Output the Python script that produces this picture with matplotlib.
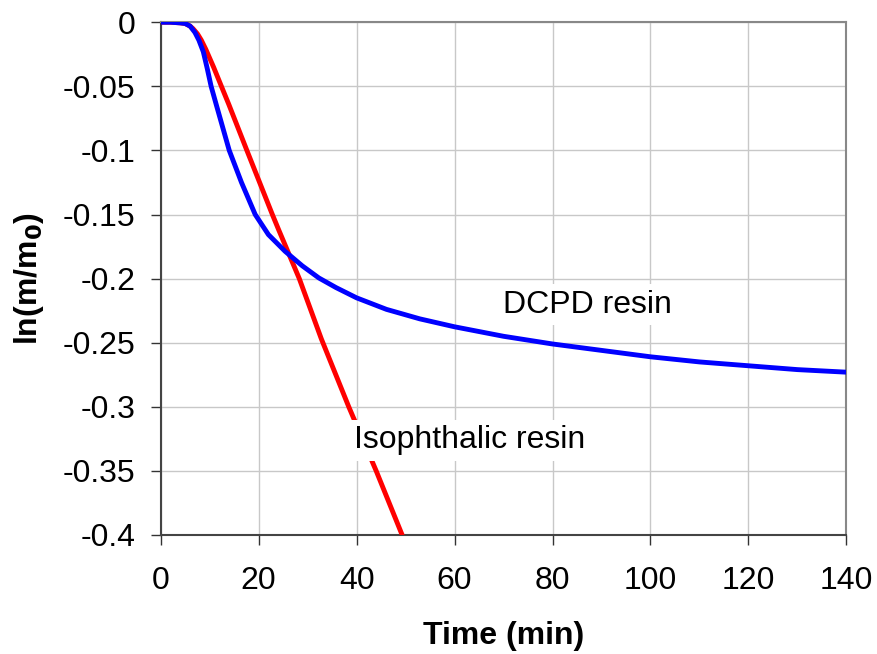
import numpy as np
import matplotlib.pyplot as plt

# readings (time in min, ln(m/m0))
t_dcpd = [0, 2, 4, 5, 6, 7, 7.8, 8.7, 9.5, 10.3, 11.4, 14, 16.5, 19.3, 22, 25.4,
          28.9, 32.3, 35.8, 40, 46.1, 52.9, 60, 70, 80, 90, 100, 110, 120, 130, 140]
y_dcpd = [0, 0, -0.0005, -0.001, -0.003, -0.008, -0.014, -0.023, -0.036, -0.05,
          -0.065, -0.1, -0.125, -0.15, -0.1657, -0.1787, -0.19, -0.1995, -0.207,
          -0.215, -0.224, -0.2314, -0.2376, -0.245, -0.251, -0.256, -0.261,
          -0.265, -0.268, -0.271, -0.273]

t_iso = [0, 2, 4, 5, 6, 6.6, 7.5, 8.3, 9.2, 10.8, 12.4, 13.9, 17.6, 22.8, 24.1,
         28.3, 32.8, 38.4, 44, 49.3]
y_iso = [0, 0, -0.0005, -0.001, -0.003, -0.005, -0.009, -0.014, -0.021, -0.035,
         -0.05, -0.064, -0.1, -0.15, -0.162, -0.2, -0.247, -0.3, -0.35, -0.4]

xticks = np.arange(0, 141, 20)
yticks = [0, -0.05, -0.1, -0.15, -0.2, -0.25, -0.3, -0.35, -0.4]
ytick_labels = ['0', '-0.05', '-0.1', '-0.15', '-0.2', '-0.25', '-0.3', '-0.35', '-0.4']

plt.rcParams['font.family'] = ['Liberation Sans', 'DejaVu Sans']

fig = plt.figure(figsize=(8.78, 6.54), dpi=100)
ax = fig.add_axes([0.183, 0.182, 0.781, 0.784])

ax.plot(t_iso, y_iso, color='#ff0000', lw=3.5, solid_capstyle='round', zorder=3)
ax.plot(t_dcpd, y_dcpd, color='#0000ff', lw=3.5, solid_capstyle='round', zorder=4)

ax.set_xlim(0, 140)
ax.set_ylim(-0.4, 0)
ax.set_xticks(xticks)
ax.set_yticks(yticks)
ax.set_yticklabels(ytick_labels)
ax.tick_params(labelsize=23, direction='out', length=7, width=1, color='#333333')
ax.tick_params(axis='x', pad=15)
ax.tick_params(axis='y', pad=11)
ax.grid(True, color='#c8c8c8', lw=1)
ax.set_axisbelow(True)

for s in ['left', 'bottom']:
    ax.spines[s].set_color('#444444')
    ax.spines[s].set_linewidth(1.5)
for s in ['top', 'right']:
    ax.spines[s].set_color('#888888')
    ax.spines[s].set_linewidth(1.5)

ax.set_xlabel('Time (min)', fontsize=23, fontweight='bold', labelpad=18)
ax.set_ylabel(r'ln(m/m$_\mathbf{0}$)', fontsize=23, fontweight='bold', labelpad=12)

box = dict(facecolor='white', edgecolor='none', pad=4)
ax.text(39.5, -0.326, 'Isophthalic resin', fontsize=23, ha='left', va='center',
        bbox=box, zorder=5)
ax.text(69.8, -0.2205, 'DCPD resin', fontsize=23, ha='left', va='center',
        bbox=box, zorder=5)

fig.savefig('out.png', dpi=100)
